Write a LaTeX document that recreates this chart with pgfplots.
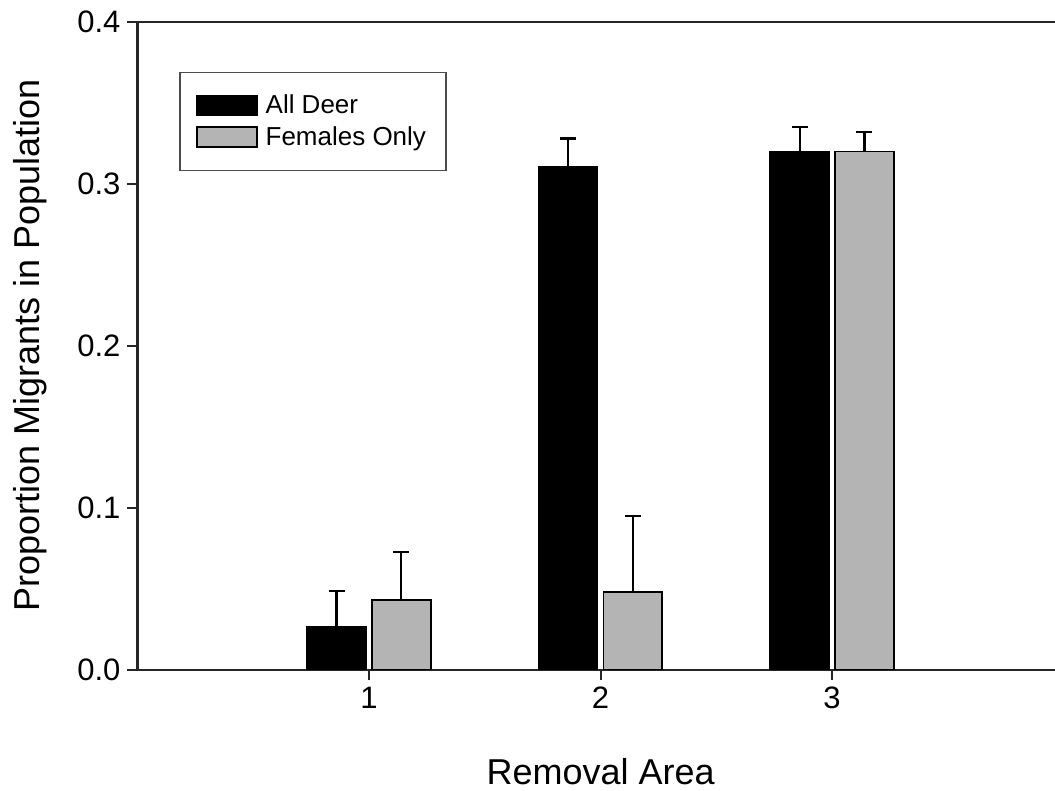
\documentclass[border=0pt]{standalone}
\usepackage{fontspec}
\setmainfont{Liberation Sans}
\usepackage{pgfplots}
\pgfplotsset{compat=1.18}
\usetikzlibrary{calc}
\definecolor{barfill}{RGB}{180,180,180}
\begin{document}
\begin{tikzpicture}
\begin{axis}[
  name=ax,
  scale only axis,
  width=459pt, height=324pt,
  xmin=0, xmax=3.963, ymin=0, ymax=0.4,
  axis x line=box, axis y line=left,
  axis line style={line width=1.1pt, -, black!85},
  xtick={1,2,3}, ytick={0,0.1,0.2,0.3,0.4},
  xtick pos=left, ytick pos=left,
  tick align=outside, major tick length=5pt,
  tick style={line width=1pt, black!85},
  y tick label style={/pgf/number format/fixed, /pgf/number format/fixed zerofill, /pgf/number format/precision=1},
  ticklabel style={font=\fontsize{15.5}{18}\selectfont},
  /pgf/number format/assume math mode=true,
  xlabel={Removal Area},
  ylabel={Proportion Migrants in Population},
  label style={font=\fontsize{18}{21}\selectfont},
  xlabel style={at={(axis description cs:0.5048,-0.157)}, anchor=center},
  ylabel style={at={(axis description cs:-0.1166,0.5)}, anchor=center},
  bar width=0.254,
  legend style={at={(axis description cs:0,1)}, anchor=north west, xshift=21pt, yshift=-25pt,
    draw=black!70, line width=0.6pt, font=\fontsize{13}{15}\selectfont,
    inner xsep=8pt, inner ysep=9pt, row sep=1pt},
  legend cell align=left,
]
\addplot[ybar, bar shift=0pt, fill=black, draw=black, line width=0.9pt,
  legend image code/.code={\draw[fill=black,draw=black,line width=0.8pt] (0pt,-5pt) rectangle (30pt,5pt); \path (32pt,0pt);},
  error bars/.cd, y dir=plus, y explicit, error mark=-,
  error bar style={line width=1.1pt, black},
  error mark options={line width=1.2pt, mark size=4pt, black, rotate=90}]
  coordinates {(0.86,0.0265) +- (0,0.022) (1.86,0.3105) +- (0,0.0175) (2.86,0.320) +- (0,0.015)};
\addlegendentry{All Deer}
\addplot[ybar, bar shift=0pt, fill=barfill, draw=black, line width=0.9pt,
  legend image code/.code={\draw[fill=barfill,draw=black,line width=0.8pt] (0pt,-5pt) rectangle (30pt,5pt); \path (32pt,0pt);},
  error bars/.cd, y dir=plus, y explicit, error mark=-,
  error bar style={line width=1.1pt, black},
  error mark options={line width=1.2pt, mark size=4pt, black, rotate=90}]
  coordinates {(1.14,0.0432) +- (0,0.0296) (2.14,0.048) +- (0,0.047) (3.14,0.320) +- (0,0.012)};
\addlegendentry{Females Only}
\end{axis}
\pgfresetboundingbox
\path ($(ax.south west)+(-68.75pt,-60.5pt)$) rectangle ($(ax.north east)+(0pt,11pt)$);
\end{tikzpicture}
\end{document}
